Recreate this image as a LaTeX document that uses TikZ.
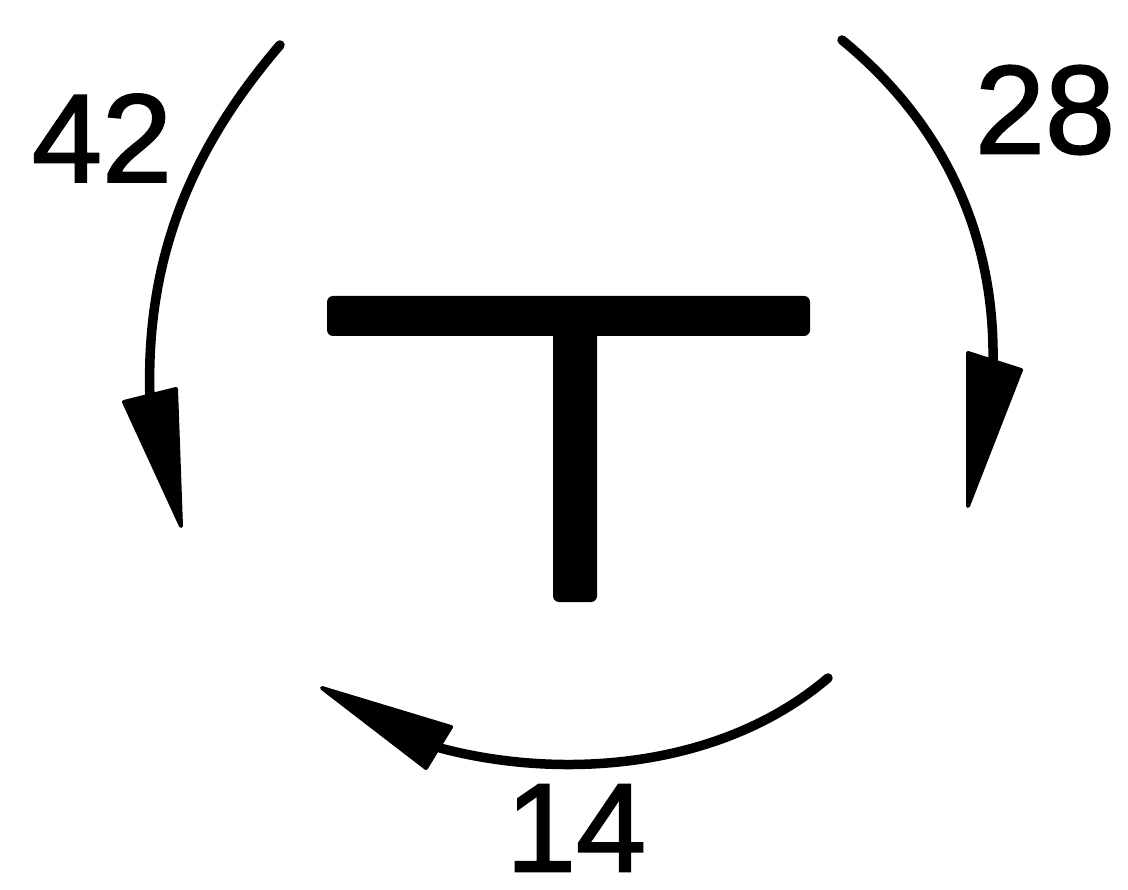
\documentclass[tikz,border=0pt]{standalone}
\usepackage{fontspec}
\setmainfont{Liberation Sans}
\newfontfamily\lblfont[FakeBold=1.5]{Liberation Sans}
\begin{document}
\begin{tikzpicture}[x=1pt,y=-1pt,
  arcline/.style={line width=9.5pt,line cap=round},
  headfill/.style={fill=black,draw=black,line width=4pt,line join=round},
  tbar/.style={fill=black,rounded corners=6pt},
  lbl/.style={inner sep=0pt,font=\lblfont\fontsize{126}{126}\selectfont}]
\useasboundingbox (0,0) rectangle (1128,890);
% T shape
\fill[tbar] (327,296) rectangle (810,336);
\fill[tbar] (553,320) rectangle (597,602);
% left arc
\coordinate (lA) at (280,45);
\coordinate (lB) at (150,400);
\draw[arcline] (lA) .. controls (190,150) and (145,260) .. (lB);
\filldraw[headfill] (124,402) -- (176,389) -- (181,526) -- cycle;
% right arc
\coordinate (rA) at (842,40);
\coordinate (rB) at (993,362);
\draw[arcline] (rA) .. controls (940,120) and (995,230) .. (rB);
\filldraw[headfill] (968,353) -- (1021,370) -- (968,506) -- cycle;
% bottom arc
\coordinate (bA) at (828,678);
\coordinate (bB) at (440,748);
\draw[arcline] (bA) .. controls (720,770) and (560,780) .. (bB);
\filldraw[headfill] (322,688) -- (451,727) -- (426,768) -- cycle;
% labels
\node[lbl] (n42) at (102,138) {42};
\node[lbl] (n28) at (1045,110) {28};
\node[lbl] (n14) at (576,828) {14};
\end{tikzpicture}
\end{document}
